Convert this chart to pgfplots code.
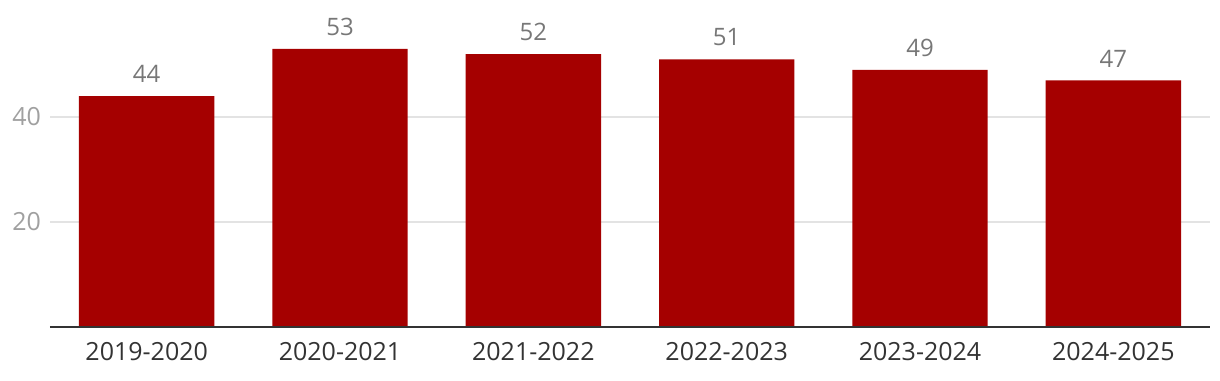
\documentclass[border=0pt]{standalone}
\usepackage{pgfplots}
\pgfplotsset{compat=1.18}
\usepackage{fontspec}
\setmainfont{Open Sans}
\definecolor{barred}{HTML}{A50000}
\definecolor{axisdark}{HTML}{333333}
\definecolor{gridgray}{HTML}{E3E3E3}
\definecolor{ticklab}{HTML}{A0A0A0}
\definecolor{vallab}{HTML}{777777}
\begin{document}
\begin{tikzpicture}
\begin{axis}[
  scale only axis,
  width=580pt, height=157.5pt,
  xmin=-0.5, xmax=5.5, ymin=0, ymax=60,
  axis line style={draw=none},
  ybar, bar width=0.7, bar shift=0pt,
  xtick=data,
  xticklabels={2019-2020,2020-2021,2021-2022,2022-2023,2023-2024,2024-2025},
  ytick={20,40},
  ymajorgrids, grid style={gridgray, line width=0.6pt},
  major tick length=0pt,
  xticklabel style={font=\fontsize{12.5}{14}\selectfont, text=axisdark, yshift=-4pt},
  yticklabel style={font=\fontsize{12.5}{14}\selectfont, text=ticklab, xshift=-1pt},
  /pgf/number format/assume math mode=true,
  nodes near coords,
  nodes near coords style={font=\fontsize{12}{14}\selectfont, text=vallab, yshift=3pt},
  clip=false,
]
\addplot[fill=barred, draw=none] table[x=x,y=y] {
x y
0 44
1 53
2 52
3 51
4 49
5 47
};
\draw[axisdark, line width=1pt] (axis cs:-0.5,0) -- (axis cs:5.5,0);
\end{axis}
\path (current axis.south west) ++(-25pt,-26.5pt) coordinate (bl);
\path (current axis.north east) ++(5pt,6pt) coordinate (tr);
\path (bl) rectangle (tr);
\end{tikzpicture}
\end{document}
